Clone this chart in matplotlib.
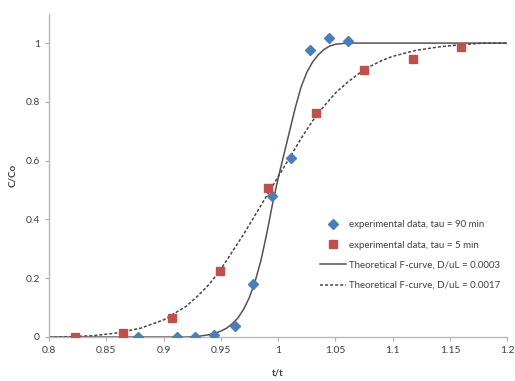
import matplotlib
matplotlib.use('Agg')
import matplotlib.pyplot as plt

plt.rcParams['font.family'] = ['Lato', 'DejaVu Sans']

# experimental data, tau = 90 min
x90 = [0.8774, 0.9114, 0.9277, 0.9443, 0.9623, 0.9777, 0.9943, 1.0109, 1.0277, 1.0443, 1.0612]
y90 = [0.0, 0.0, 0.0, 0.006, 0.037, 0.18, 0.48, 0.61, 0.976, 1.019, 1.008]

# experimental data, tau = 5 min
x5 = [0.8227, 0.8648, 0.907, 0.9492, 0.9908, 1.033, 1.075, 1.1174, 1.1595]
y5 = [0.0, 0.013, 0.064, 0.226, 0.506, 0.761, 0.91, 0.945, 0.987]

# theoretical F-curve, D/uL = 0.0003
xs = [0.80, 0.90, 0.92, 0.93, 0.94, 0.945, 0.95, 0.955, 0.96, 0.965, 0.97, 0.975,
      0.98, 0.985, 0.99, 0.995, 1.00, 1.005, 1.01, 1.015, 1.02, 1.025, 1.03,
      1.035, 1.04, 1.045, 1.05, 1.06, 1.20]
ys = [0.0, 0.0, 0.0, 0.002, 0.008, 0.013, 0.02, 0.03, 0.045, 0.065, 0.095, 0.135,
      0.19, 0.26, 0.35, 0.45, 0.54, 0.62, 0.70, 0.78, 0.85, 0.90, 0.935,
      0.96, 0.978, 0.99, 0.996, 1.0, 1.0]

# theoretical F-curve, D/uL = 0.0017
xd = [0.80, 0.82, 0.84, 0.86, 0.88, 0.90, 0.92, 0.93, 0.94, 0.95, 0.96, 0.97,
      0.98, 0.99, 1.00, 1.01, 1.02, 1.03, 1.04, 1.05, 1.06, 1.07, 1.08, 1.09,
      1.10, 1.12, 1.14, 1.16, 1.18, 1.20]
yd = [0.0, 0.001, 0.005, 0.014, 0.03, 0.058, 0.105, 0.14, 0.18, 0.23, 0.29, 0.35,
      0.415, 0.48, 0.545, 0.61, 0.675, 0.735, 0.785, 0.83, 0.865, 0.895, 0.92, 0.94,
      0.955, 0.975, 0.987, 0.995, 1.0, 1.0]

xticks = [0.8, 0.85, 0.9, 0.95, 1.0, 1.05, 1.1, 1.15, 1.2]
xlabels = ['0.8', '0.85', '0.9', '0.95', '1', '1.05', '1.1', '1.15', '1.2']
yticks = [0, 0.2, 0.4, 0.6, 0.8, 1.0]
ylabels = ['0', '0.2', '0.4', '0.6', '0.8', '1']

txt = '#404040'
fig = plt.figure(figsize=(5.15, 3.81), dpi=100)
ax = fig.add_axes([0.095, 0.1155, 0.89, 0.8485])

ax.plot(x90, y90, 'D', color='#4a7ebb', markersize=5, linestyle='none',
        label='experimental data, tau = 90 min', zorder=3)
ax.plot(x5, y5, 's', color='#c0504d', markersize=6, linestyle='none',
        label='experimental data, tau = 5 min', zorder=3)
ax.plot(xs, ys, '-', color='#5a5050', lw=1.1,
        label='Theoretical F-curve, D/uL = 0.0003', zorder=2)
ax.plot(xd, yd, color='#4a4545', lw=1.1, dashes=(2, 1.3),
        label='Theoretical F-curve, D/uL = 0.0017', zorder=2)

ax.set_xlim(0.8, 1.2)
ax.set_ylim(0, 1.1)
ax.set_xticks(xticks)
ax.set_xticklabels(xlabels)
ax.set_yticks(yticks)
ax.set_yticklabels(ylabels)
ax.tick_params(labelsize=7.5, colors='#b0b0b0', labelcolor=txt, length=3, width=0.8)

for s in ['top', 'right']:
    ax.spines[s].set_visible(False)
for s in ['left', 'bottom']:
    ax.spines[s].set_color('#b8b8b8')
    ax.spines[s].set_linewidth(1.0)

ax.set_xlabel('t/t', fontsize=7, color=txt, fontweight='bold', labelpad=10)
ax.set_ylabel('C/Co', fontsize=7, color=txt, fontweight='bold')
ax.yaxis.set_label_coords(-0.07, 0.5)

leg = ax.legend(loc='center left', bbox_to_anchor=(0.605, 0.33), frameon=False,
                fontsize=7, handlelength=2.6, handletextpad=0.4, labelspacing=1.15,
                bbox_transform=fig.transFigure)
for t in leg.get_texts():
    t.set_color(txt)

fig.savefig('out.png', dpi=100)
